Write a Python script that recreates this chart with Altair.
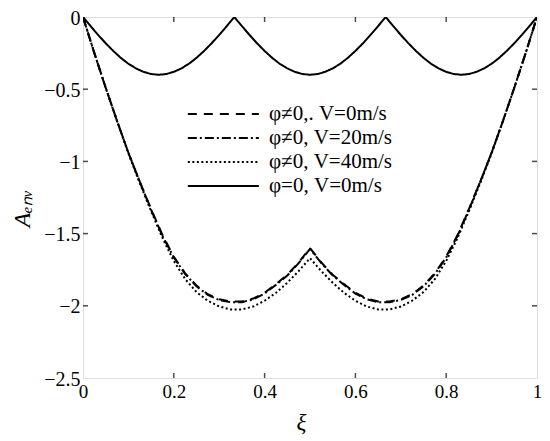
import altair as alt
import pandas as pd

# --- data ---
xi_lower = [0, 0.025, 0.05, 0.075, 0.1, 0.125, 0.15, 0.175, 0.2, 0.225, 0.25,
            0.275, 0.3, 0.325, 0.35, 0.375, 0.4, 0.425, 0.45, 0.475, 0.5,
            0.525, 0.55, 0.575, 0.6, 0.625, 0.65, 0.675, 0.7, 0.725, 0.75,
            0.775, 0.8, 0.825, 0.85, 0.875, 0.9, 0.925, 0.95, 0.975, 1.0]

a_v0 = [0, -0.25, -0.49, -0.72, -0.94, -1.14, -1.33, -1.51, -1.66, -1.775, -1.86,
        -1.92, -1.955, -1.97, -1.97, -1.95, -1.91, -1.85, -1.785, -1.70, -1.60,
        -1.70, -1.785, -1.85, -1.91, -1.95, -1.97, -1.97, -1.955, -1.92, -1.86,
        -1.775, -1.66, -1.51, -1.33, -1.14, -0.94, -0.72, -0.49, -0.25, 0]

a_v20 = [0, -0.25, -0.49, -0.72, -0.94, -1.14, -1.335, -1.515, -1.665, -1.78, -1.865,
         -1.925, -1.96, -1.975, -1.975, -1.955, -1.915, -1.855, -1.79, -1.705, -1.605,
         -1.705, -1.79, -1.855, -1.915, -1.955, -1.975, -1.975, -1.96, -1.925, -1.865,
         -1.78, -1.665, -1.515, -1.335, -1.14, -0.94, -0.72, -0.49, -0.25, 0]

a_v40 = [0, -0.25, -0.49, -0.72, -0.945, -1.15, -1.345, -1.53, -1.69, -1.815, -1.905,
         -1.965, -2.005, -2.025, -2.025, -2.005, -1.965, -1.91, -1.84, -1.76, -1.67,
         -1.76, -1.84, -1.91, -1.965, -2.005, -2.025, -2.025, -2.005, -1.965, -1.905,
         -1.815, -1.69, -1.53, -1.345, -1.15, -0.945, -0.72, -0.49, -0.25, 0]

xi_upper = [0, 0.0167, 0.0333, 0.05, 0.0667, 0.0833, 0.1, 0.1167, 0.1333, 0.15, 0.1667,
            0.1833, 0.2, 0.2167, 0.2333, 0.25, 0.2667, 0.2833, 0.3, 0.3167, 0.3333,
            0.35, 0.3667, 0.3833, 0.4, 0.4167, 0.4333, 0.45, 0.4667, 0.4833, 0.5,
            0.5167, 0.5333, 0.55, 0.5667, 0.5833, 0.6, 0.6167, 0.6333, 0.65, 0.6667,
            0.6833, 0.7, 0.7167, 0.7333, 0.75, 0.7667, 0.7833, 0.8, 0.8167, 0.8333,
            0.85, 0.8667, 0.8833, 0.9, 0.9167, 0.9333, 0.95, 0.9667, 0.9833, 1.0]

a_phi0 = [0, -0.063, -0.124, -0.182, -0.235, -0.283, -0.324, -0.356, -0.38, -0.395, -0.40,
          -0.395, -0.38, -0.356, -0.324, -0.283, -0.235, -0.182, -0.124, -0.063, 0,
          -0.063, -0.124, -0.182, -0.235, -0.283, -0.324, -0.356, -0.38, -0.395, -0.40,
          -0.395, -0.38, -0.356, -0.324, -0.283, -0.235, -0.182, -0.124, -0.063, 0,
          -0.063, -0.124, -0.182, -0.235, -0.283, -0.324, -0.356, -0.38, -0.395, -0.40,
          -0.395, -0.38, -0.356, -0.324, -0.283, -0.235, -0.182, -0.124, -0.063, 0]

series = ["φ≠0,. V=0m/s", "φ≠0, V=20m/s", "φ≠0, V=40m/s", "φ=0, V=0m/s"]
dashes = [[9, 7], [9, 3, 2, 3], [2, 2.5], [1, 0]]

x_ticks = [0.2, 0.4, 0.6, 0.8]
y_ticks = [-0.5, -1, -1.5, -2]

rows = []
for name, xs, ys in [(series[0], xi_lower, a_v0), (series[1], xi_lower, a_v20),
                     (series[2], xi_lower, a_v40), (series[3], xi_upper, a_phi0)]:
    for i, (x, y) in enumerate(zip(xs, ys)):
        rows.append({"xi": x, "A": y, "series": name, "order": i})
df = pd.DataFrame(rows)

xt = pd.DataFrame([{"xi": v, "A": e} for v in x_ticks for e in (0, -2.5)])
yt = pd.DataFrame([{"xi": e, "A": v} for v in y_ticks for e in (0, 1)])

FONT = "Liberation Serif"

xscale = alt.Scale(domain=[0, 1], nice=False, zero=False)
yscale = alt.Scale(domain=[-2.5, 0], nice=False, zero=False)

x_enc = alt.X("xi:Q", scale=xscale, axis=alt.Axis(
    title="ξ", values=[0, 0.2, 0.4, 0.6, 0.8, 1], format="~g", grid=False,
    ticks=False, labelPadding=4, labelFontSize=19, labelFont=FONT, labelColor="black",
    domain=False, titleFont=FONT, titleFontSize=23, titleFontStyle="italic",
    titleFontWeight="normal", titleColor="black", titleX=218, titleY=33,
    titleBaseline="top", labelFlush=False))
y_enc = alt.Y("A:Q", scale=yscale, axis=alt.Axis(
    title="Aₑₙᵥ", values=[0, -0.5, -1, -1.5, -2, -2.5], format="~g", grid=False,
    ticks=False, labelPadding=3, labelFontSize=20, labelFont=FONT, labelColor="black",
    labelOffset=1,
    domain=False, titleFont=FONT, titleFontSize=24, titleFontStyle="italic",
    titleFontWeight="normal", titleColor="black", titleX=-61, titleY=191,
    titleAngle=-90, titleBaseline="middle", titleAlign="center", labelFlush=False))

lines = alt.Chart(df).mark_line(strokeWidth=2, color="black", clip=True).encode(
    x=x_enc, y=y_enc, order="order:Q",
    strokeDash=alt.StrokeDash("series:N", scale=alt.Scale(domain=series, range=dashes),
                              legend=alt.Legend(
                                  title=None, orient="none", legendX=151, legendY=84,
                                  symbolType="M-5,0H1", symbolSize=560,
                                  symbolStrokeWidth=2, symbolStrokeColor="black",
                                  symbolFillColor="transparent",
                                  labelFont=FONT, labelFontSize=21, labelColor="black",
                                  labelOffset=9, padding=0, rowPadding=1, labelLimit=300)),
)

xticks_layer = alt.Chart(xt).mark_tick(orient="vertical", size=10, thickness=1.5,
                                        color="black", clip=True).encode(
    x=alt.X("xi:Q", scale=xscale), y=alt.Y("A:Q", scale=yscale))
yticks_layer = alt.Chart(yt).mark_tick(orient="horizontal", size=10, thickness=1.5,
                                        color="black", clip=True).encode(
    x=alt.X("xi:Q", scale=xscale), y=alt.Y("A:Q", scale=yscale))

chart = alt.layer(lines, xticks_layer, yticks_layer).properties(
    width=454, height=361,
    autosize=alt.AutoSizeParams(type="none"),
    padding={"left": 75, "top": 9, "right": 5, "bottom": 60},
).configure_view(stroke="black", strokeWidth=2).configure(background="white")

chart.save("out.html", embed_options={"renderer": "svg", "actions": False})
